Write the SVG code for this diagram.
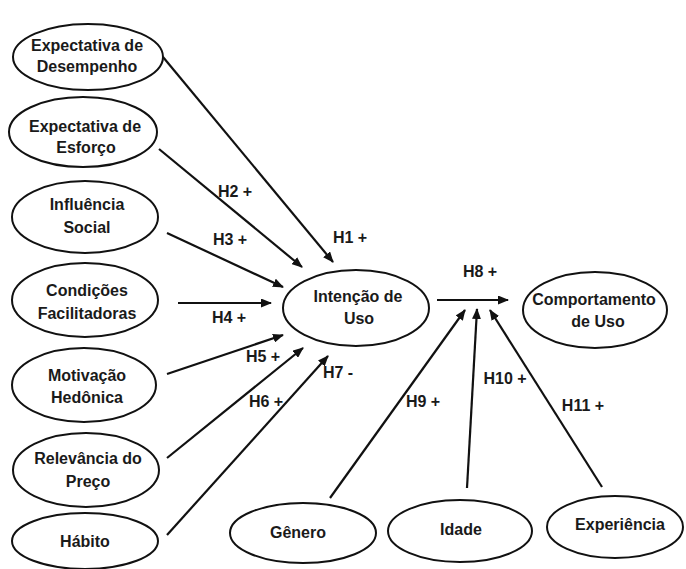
<svg xmlns="http://www.w3.org/2000/svg" width="686" height="569" viewBox="0 0 686 569">
<defs>
<marker id="arr" markerUnits="userSpaceOnUse" markerWidth="11" markerHeight="9" refX="10" refY="4.5" orient="auto">
<path d="M0,0 L11,4.5 L0,9 z" fill="#111"/>
</marker>
<style>
.n ellipse{fill:#fff;stroke:#111;stroke-width:2}
.n text,.lbl{font-family:"Liberation Sans",Arial,sans-serif;font-weight:bold;font-size:16px;fill:#1a1a1a;text-anchor:middle}
.c line{stroke:#111;stroke-width:2.2;marker-end:url(#arr)}
</style>
</defs>
<rect width="686" height="569" fill="#fff"/>
<g id="connectors" class="c">
<line x1="163" y1="57" x2="333" y2="262"/>
<line x1="159" y1="149" x2="302" y2="267"/>
<line x1="167" y1="233" x2="283" y2="287"/>
<line x1="178" y1="303" x2="271" y2="303"/>
<line x1="167" y1="374" x2="283" y2="335"/>
<line x1="167" y1="458" x2="303" y2="348"/>
<line x1="167" y1="535" x2="328" y2="356"/>
<line x1="437" y1="300" x2="508" y2="300"/>
<line x1="330" y1="498" x2="465" y2="310"/>
<line x1="467" y1="488" x2="477" y2="309"/>
<line x1="602" y1="487" x2="490" y2="310"/>
</g>
<g id="labels">
<text class="lbl" x="235" y="197">H2 +</text>
<text class="lbl" x="230" y="245">H3 +</text>
<text class="lbl" x="350" y="243">H1 +</text>
<text class="lbl" x="229" y="323">H4 +</text>
<text class="lbl" x="263" y="362">H5 +</text>
<text class="lbl" x="266" y="407">H6 +</text>
<text class="lbl" x="338" y="378">H7 -</text>
<text class="lbl" x="480" y="277">H8 +</text>
<text class="lbl" x="423" y="407">H9 +</text>
<text class="lbl" x="505" y="384">H10 +</text>
<text class="lbl" x="583" y="411">H11 +</text>
</g>
<g id="n-desempenho" class="n">
<ellipse cx="88" cy="57" rx="75" ry="33"/>
<text x="87" y="51">Expectativa de</text>
<text x="87" y="72">Desempenho</text>
</g>
<g id="n-esforco" class="n">
<ellipse cx="83" cy="132" rx="74" ry="35"/>
<text x="85" y="132">Expectativa de</text>
<text x="86" y="153">Esforço</text>
</g>
<g id="n-influencia" class="n">
<ellipse cx="85" cy="217" rx="73" ry="36"/>
<text x="87" y="210">Influência</text>
<text x="87" y="233">Social</text>
</g>
<g id="n-condicoes" class="n">
<ellipse cx="85" cy="300" rx="73" ry="37"/>
<text x="87" y="296">Condições</text>
<text x="87" y="319">Facilitadoras</text>
</g>
<g id="n-motivacao" class="n">
<ellipse cx="84" cy="385" rx="72" ry="37"/>
<text x="87" y="381">Motivação</text>
<text x="87" y="403">Hedônica</text>
</g>
<g id="n-preco" class="n">
<ellipse cx="86" cy="470" rx="73" ry="37"/>
<text x="88" y="464">Relevância do</text>
<text x="88" y="487">Preço</text>
</g>
<g id="n-habito" class="n">
<ellipse cx="85" cy="541" rx="73" ry="28"/>
<text x="85" y="547">Hábito</text>
</g>
<g id="n-intencao" class="n">
<ellipse cx="356" cy="308" rx="73" ry="38"/>
<text x="358" y="302">Intenção de</text>
<text x="359" y="324">Uso</text>
</g>
<g id="n-comportamento" class="n">
<ellipse cx="595" cy="310" rx="72" ry="38"/>
<text x="594" y="305">Comportamento</text>
<text x="598" y="327">de Uso</text>
</g>
<g id="n-genero" class="n">
<ellipse cx="303" cy="533" rx="73" ry="30"/>
<text x="298" y="538">Gênero</text>
</g>
<g id="n-idade" class="n">
<ellipse cx="460" cy="531" rx="72" ry="31"/>
<text x="461" y="535">Idade</text>
</g>
<g id="n-experiencia" class="n">
<ellipse cx="615" cy="527" rx="68" ry="31"/>
<text x="620" y="530">Experiência</text>
</g>
</svg>
